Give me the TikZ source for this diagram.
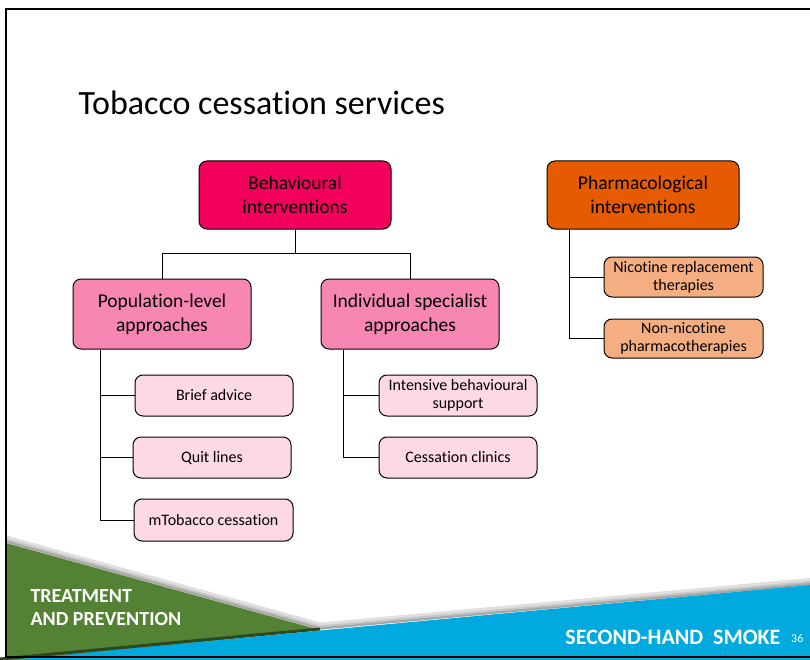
\documentclass[tikz,border=0pt]{standalone}
\usepackage{fontspec}
\setmainfont{Carlito}[Ligatures=NoCommon]
\usetikzlibrary{positioning}

\definecolor{conductual}{HTML}{F2005C}
\definecolor{farmaco}{HTML}{E65A00}
\definecolor{rosa}{HTML}{F886B2}
\definecolor{rosaclaro}{HTML}{FDD9E5}
\definecolor{naranjaclaro}{HTML}{F5AE82}
\definecolor{verde}{HTML}{548235}
\definecolor{azul}{HTML}{00AADE}

\tikzset{
  caja/.style={draw=black, line width=1pt, rounded corners=8pt, align=center, inner sep=2pt},
  grande/.style={font=\fontsize{19.5}{24}\selectfont},
  chica/.style={font=\fontsize{16}{18}\selectfont},
  linea/.style={draw=black, line width=1pt}
}

\begin{document}
\begin{tikzpicture}[x=1pt, y=-1pt]
            \useasboundingbox (0,0) rectangle (810,660);
            \clip (0,0) rectangle (810,660);

            % Titulo
            \node[anchor=west, font=\fontsize{34}{40}\selectfont] (titulo) at (75,103) {Tobacco cessation services};

            % Cajas principales
            \node[caja, grande, fill=conductual, minimum width=192pt, minimum height=68pt] (beh) at (295,195) {Behavioural\\interventions};
            \node[caja, grande, fill=farmaco, minimum width=192pt, minimum height=68pt] (farm) at (643,195) {Pharmacological\\interventions};

            % Enfoques
            \node[caja, grande, fill=rosa, minimum width=178pt, minimum height=70pt] (pob) at (162,314) {Population-level\\approaches};
            \node[caja, grande, fill=rosa, minimum width=178pt, minimum height=70pt] (ind) at (410,314) {Individual specialist\\approaches};

            % Intervenciones poblacionales
            \node[caja, chica, fill=rosaclaro, minimum width=158pt, minimum height=41pt] (breve) at (214,395.5) {Brief advice};
            \node[caja, chica, fill=rosaclaro, minimum width=158pt, minimum height=41pt] (quit) at (212,457.5) {Quit lines};
            \node[caja, chica, fill=rosaclaro, minimum width=159pt, minimum height=42pt] (mtab) at (213.5,520) {mTobacco cessation};

            % Intervenciones individuales
            \node[caja, chica, fill=rosaclaro, minimum width=158pt, minimum height=41pt] (inten) at (458,395.5) {Intensive behavioural\\support};
            \node[caja, chica, fill=rosaclaro, minimum width=158pt, minimum height=41pt] (clin) at (458,457.5) {Cessation clinics};

            % Farmacoterapias
            \node[caja, chica, fill=naranjaclaro, minimum width=159pt, minimum height=40pt] (nic) at (683.5,277) {Nicotine replacement\\therapies};
            \node[caja, chica, fill=naranjaclaro, minimum width=159pt, minimum height=39pt] (nonnic) at (683.5,338.5) {Non-nicotine\\pharmacotherapies};

            % Conectores
            \coordinate (bus) at (295,253);
            \draw[linea] (beh.south) -- (bus);
            \draw[linea] (bus) -| (pob.north);
            \draw[linea] (bus) -| (ind.north);

            \coordinate (ejeA) at (100,0 |- pob.south);
            \draw[linea] (ejeA) |- (breve.west);
            \draw[linea] (ejeA) |- (quit.west);
            \draw[linea] (ejeA) |- (mtab.west);

            \coordinate (ejeB) at (343,0 |- ind.south);
            \draw[linea] (ejeB) |- (inten.west);
            \draw[linea] (ejeB) |- (clin.west);

            \coordinate (ejeC) at (569,0 |- farm.south);
            \draw[linea] (ejeC) |- (nic.west);
            \draw[linea] (ejeC) |- (nonnic.west);

            % Franja inferior
            \draw[gray!25, line width=7pt, line join=round] (6,539) -- (320,626) -- (815,581);
            \draw[gray!45, line width=4pt, line join=round] (6,540.5) -- (320,627.5) -- (815,582.5);
            \draw[gray!70, line width=2pt, line join=round] (6,541.5) -- (320,628.5) -- (815,583.5);
            \fill[verde] (6,543) -- (320,630) -- (6,662) -- cycle;
            \draw[verde!55!black, line width=3pt] (0,659) -- (320,629);
            \fill[azul] (0,661) -- (320,630.5) -- (815,584.5) -- (815,662) -- cycle;
            \node[anchor=west, text=white, align=left, font=\fontsize{20}{23}\selectfont\bfseries] (rotulo) at (27,607.5) {TREATMENT\\AND PREVENTION};
            \node[anchor=east, text=white, font=\fontsize{22}{24}\selectfont\bfseries] (serie) at (784,637) {SECOND-HAND\ \ SMOKE};
            \node[anchor=west, text=white, font=\fontsize{12}{14}\selectfont, inner sep=0pt] (pagina) at (791,638) {36};

            % Marco
            \draw[line width=1.5pt] (830,9) -- (6,9) -- (6,657) -- (830,657);
\end{tikzpicture}
\end{document}
